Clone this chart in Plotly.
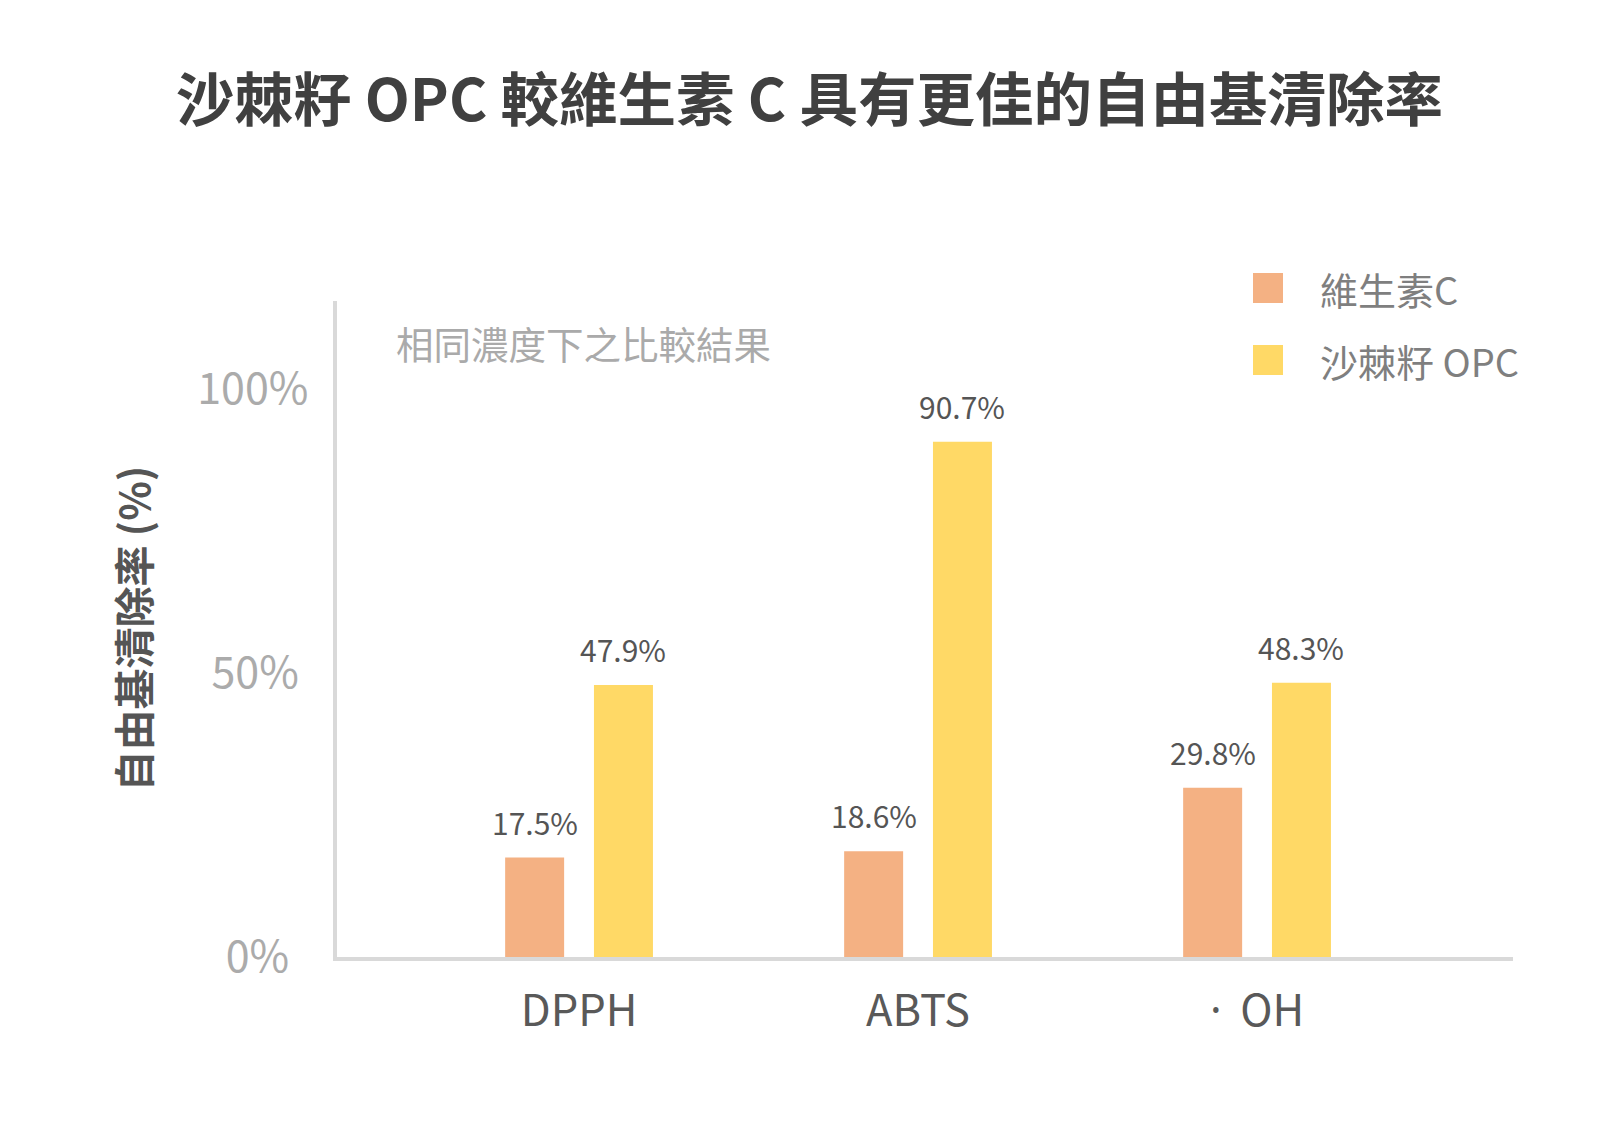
import plotly.graph_objects as go

categories = ["DPPH", "ABTS", "· OH"]
series_names = ["維生素C", "沙棘籽 OPC"]
vitc_values = [17.5, 18.6, 29.8]
opc_values = [47.9, 90.7, 48.3]
y_tickvals = [0, 50, 100]
y_ticktext = ["0%", "50%", "100%"]
title_text = "沙棘籽 OPC 較維生素 C 具有更佳的自由基清除率"
note_text = "相同濃度下之比較結果"
y_title = "自由基清除率 (%)"

FONT = "Noto Sans CJK TC"
colors = ["#F4B183", "#FFD966"]

# page offset (default body margin of the html page)
OFF = 8
W, H = 1611 - OFF, 1125 - OFF
plot_left, plot_right, plot_top, plot_bottom = 337 - OFF, 1513 - OFF, 301 - OFF, 957 - OFF
L, R, T, B = plot_left, W - plot_right, plot_top, H - plot_bottom
pw, ph = W - L - R, H - T - B

bar_w = 0.174
offsets = [-0.131 - bar_w / 2, 0.131 - bar_w / 2]
all_vals = [vitc_values, opc_values]

fig = go.Figure()
for i, (name, vals) in enumerate(zip(series_names, all_vals)):
    fig.add_trace(go.Bar(
        x=list(range(len(categories))), y=vals, name=name,
        marker=dict(color=colors[i], line=dict(width=0)),
        width=bar_w, offset=offsets[i], showlegend=False,
    ))

annotations = []
for i, vals in enumerate(all_vals):
    for j, v in enumerate(vals):
        annotations.append(dict(
            x=j + offsets[i] + bar_w / 2, y=v, xref="x", yref="y",
            text=f"{v:.1f}%", showarrow=False, yanchor="bottom", yshift=12,
            font=dict(family=FONT, size=30, color="#555555"),
        ))

def px(xp):
    return (xp - OFF - L) / pw

def py(yp):
    return (H - B - (yp - OFF)) / ph

# note
annotations.append(dict(x=px(394), y=py(342), xref="paper", yref="paper", text=note_text,
                        showarrow=False, xanchor="left", yanchor="middle",
                        font=dict(family=FONT, size=37.5, color="#AAAAAA")))
# y title
annotations.append(dict(x=px(131.5), y=py(628), xref="paper", yref="paper", text=y_title,
                        showarrow=False, textangle=-90, xanchor="center", yanchor="middle",
                        font=dict(family=FONT, size=41, color="#555555", weight="bold")))

# manual legend
shapes = []
leg_y = [288.0, 360.0]
for i, name in enumerate(series_names):
    shapes.append(dict(type="rect", xref="paper", yref="paper",
                       x0=px(1253), x1=px(1283), y0=py(leg_y[i] + 15), y1=py(leg_y[i] - 15),
                       fillcolor=colors[i], line=dict(width=0)))
    annotations.append(dict(x=px(1318), y=py(leg_y[i]), xref="paper", yref="paper", text=name,
                            showarrow=False, xanchor="left", yanchor="middle",
                            font=dict(family=FONT, size=38, color="#7F7F7F")))

tick_text_x = [c.replace("· ", "<span style='font-family:Noto Sans'>·\u2009 </span>") for c in categories]
# pad the shorter y tick labels so they appear centred like the original
maxlen = max(len(t) for t in y_ticktext)
tick_text_y = [t + "\u00a0" * (maxlen - len(t)) for t in y_ticktext]

fig.update_layout(
    width=W, height=H,
    margin=dict(l=L, r=R, t=T, b=B, autoexpand=False),
    paper_bgcolor="white", plot_bgcolor="white",
    title=dict(text=title_text, x=0.5, xanchor="center", xref="container",
               y=1 - (101 - OFF) / H, yanchor="middle", yref="container",
               font=dict(family=FONT, size=58.5, color="#404040", weight="bold")),
    barmode="group",
    annotations=annotations, shapes=shapes,
    showlegend=False,
    xaxis=dict(tickvals=list(range(len(categories))), ticktext=tick_text_x,
               range=[-0.714, 2.755], showgrid=False, zeroline=False,
               showline=True, linecolor="#D9D9D9", linewidth=4, ticks="",
               ticklabelstandoff=13,
               tickfont=dict(family=FONT, size=43.5, color="#595959")),
    yaxis=dict(range=[0, 115.5], tickvals=y_tickvals, ticktext=tick_text_y,
               showgrid=False, zeroline=False, showline=True, linecolor="#D9D9D9",
               linewidth=4, ticks="", ticklabelstandoff=16,
               tickfont=dict(family=FONT, size=43, color="#ABABAB")),
)

fig.write_html("out.html")
